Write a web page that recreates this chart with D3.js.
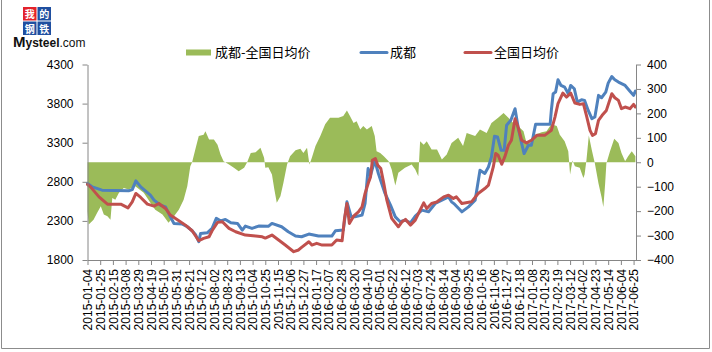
<!DOCTYPE html>
<html>
<head>
<meta charset="utf-8">
<script src="https://cdn.jsdelivr.net/npm/d3@7/dist/d3.min.js"></script>
<style>
  body { margin: 0; background: #fff; }
  svg { display: block; font-family: "Liberation Sans", Arial, sans-serif; }
</style>
</head>
<body>
<div id="chart"></div>
<script>
'use strict';

// x-axis tick labels, every 21 days
var tickDates = [
  "2015-01-04","2015-01-25","2015-02-15","2015-03-08","2015-03-29","2015-04-19","2015-05-10","2015-05-31",
  "2015-06-21","2015-07-12","2015-08-02","2015-08-23","2015-09-13","2015-10-04","2015-10-25","2015-11-15",
  "2015-12-06","2015-12-27","2016-01-17","2016-02-07","2016-02-28","2016-03-20","2016-04-10","2016-05-01",
  "2016-05-22","2016-06-12","2016-07-03","2016-07-24","2016-08-14","2016-09-04","2016-09-25","2016-10-16",
  "2016-11-06","2016-11-27","2016-12-18","2017-01-08","2017-01-29","2017-02-19","2017-03-12","2017-04-02",
  "2017-04-23","2017-05-14","2017-06-04","2017-06-25"
];

var leftTicks = [1800, 2300, 2800, 3300, 3800, 4300];
var rightTicks = [-400, -300, -200, -100, 0, 100, 200, 300, 400];

var seriesNames = ["成都-全国日均价", "成都", "全国日均价"];

// 成都
var chengdu = [
  ["2015-01-04",2780],["2015-01-12",2735],["2015-01-28",2693],["2015-03-13",2684],["2015-03-19",2700],
  ["2015-03-25",2812],["2015-04-02",2735],["2015-04-18",2629],["2015-04-24",2565],["2015-05-05",2500],
  ["2015-05-13",2480],["2015-05-21",2352],["2015-05-27",2268],["2015-06-10",2259],["2015-06-18",2225],
  ["2015-06-26",2174],["2015-07-02",2119],["2015-07-07",2034],["2015-07-10",2140],["2015-07-21",2148],
  ["2015-07-29",2204],["2015-08-05",2332],["2015-08-12",2301],["2015-08-20",2319],["2015-08-29",2276],
  ["2015-09-09",2268],["2015-09-17",2183],["2015-09-22",2234],["2015-10-03",2204],["2015-10-14",2234],
  ["2015-10-30",2230],["2015-11-05",2268],["2015-11-21",2225],["2015-12-02",2161],["2015-12-14",2106],
  ["2015-12-24",2097],["2016-01-05",2132],["2016-01-21",2106],["2016-02-12",2106],["2016-02-18",2174],
  ["2016-03-02",2183],["2016-03-08",2544],["2016-03-15",2352],["2016-03-21",2352],["2016-04-02",2374],
  ["2016-04-07",2523],["2016-04-12",2970],["2016-04-16",2884],["2016-04-23",3075],["2016-04-29",2906],
  ["2016-05-10",2651],["2016-05-19",2501],["2016-05-27",2352],["2016-06-04",2289],["2016-06-12",2310],
  ["2016-06-21",2276],["2016-06-29",2361],["2016-07-10",2438],["2016-07-21",2416],["2016-08-01",2523],
  ["2016-08-12",2565],["2016-08-23",2607],["2016-08-28",2544],["2016-09-02",2514],["2016-09-14",2416],
  ["2016-09-25",2480],["2016-10-06",2565],["2016-10-14",2948],["2016-10-22",2906],["2016-10-28",2990],
  ["2016-11-02",3118],["2016-11-07",3382],["2016-11-12",3373],["2016-11-18",3203],["2016-11-23",3203],
  ["2016-11-27",3522],["2016-12-04",3586],["2016-12-11",3735],["2016-12-16",3500],["2016-12-22",3288],
  ["2016-12-26",3161],["2017-01-02",3267],["2017-01-07",3267],["2017-01-14",3535],["2017-02-07",3535],
  ["2017-02-09",3713],["2017-02-12",3926],["2017-02-16",3947],["2017-02-20",4105],["2017-02-25",4032],
  ["2017-03-03",4011],["2017-03-09",3926],["2017-03-13",4032],["2017-03-19",3990],["2017-03-24",3819],
  ["2017-03-31",3850],["2017-04-05",3841],["2017-04-11",3713],["2017-04-17",3607],["2017-04-22",3628],
  ["2017-04-28",3905],["2017-05-03",3875],["2017-05-10",3947],["2017-05-14",4062],["2017-05-20",4147],
  ["2017-05-25",4105],["2017-05-31",4075],["2017-06-11",4032],["2017-06-19",3959],["2017-06-25",3905],
  ["2017-06-28",3959]
];

// 全国日均价
var national = [
  ["2015-01-04",2765],["2015-01-09",2735],["2015-01-23",2607],["2015-02-06",2514],["2015-02-28",2514],
  ["2015-03-12",2467],["2015-03-19",2544],["2015-03-25",2651],["2015-04-02",2600],["2015-04-13",2514],
  ["2015-04-24",2489],["2015-05-02",2523],["2015-05-13",2459],["2015-05-21",2374],["2015-06-01",2319],
  ["2015-06-15",2246],["2015-06-26",2174],["2015-07-07",2046],["2015-07-15",2077],["2015-07-24",2097],
  ["2015-07-29",2174],["2015-08-07",2281],["2015-08-15",2289],["2015-08-26",2204],["2015-09-06",2161],
  ["2015-09-22",2119],["2015-10-09",2106],["2015-10-20",2097],["2015-10-25",2080],["2015-11-05",2119],
  ["2015-11-16",2055],["2015-11-27",1991],["2015-12-11",1906],["2015-12-19",1928],["2015-12-24",1962],
  ["2016-01-05",2034],["2016-01-10",1991],["2016-01-18",2013],["2016-01-27",1991],["2016-02-12",1991],
  ["2016-02-20",2055],["2016-02-29",2046],["2016-03-04",2332],["2016-03-08",2523],["2016-03-12",2268],
  ["2016-03-19",2361],["2016-03-27",2416],["2016-04-02",2480],["2016-04-07",2651],["2016-04-13",2799],
  ["2016-04-16",2863],["2016-04-19",3075],["2016-04-24",3097],["2016-04-28",3012],["2016-05-03",2969],
  ["2016-05-08",2778],["2016-05-13",2565],["2016-05-21",2332],["2016-06-01",2225],["2016-06-07",2289],
  ["2016-06-13",2319],["2016-06-21",2246],["2016-06-29",2310],["2016-07-07",2438],["2016-07-13",2531],
  ["2016-07-18",2459],["2016-07-26",2523],["2016-08-04",2544],["2016-08-15",2607],["2016-08-23",2629],
  ["2016-08-31",2587],["2016-09-05",2607],["2016-09-14",2523],["2016-09-30",2544],["2016-10-11",2651],
  ["2016-10-22",2714],["2016-10-28",2757],["2016-11-05",2990],["2016-11-09",3161],["2016-11-13",3139],
  ["2016-11-19",3024],["2016-11-24",3118],["2016-11-30",3267],["2016-12-05",3331],["2016-12-11",3607],
  ["2016-12-16",3500],["2016-12-22",3331],["2016-12-30",3297],["2017-01-07",3331],["2017-01-16",3394],
  ["2017-01-29",3394],["2017-02-09",3458],["2017-02-15",3628],["2017-02-20",3799],["2017-02-28",3934],
  ["2017-03-06",3883],["2017-03-13",3934],["2017-03-20",3807],["2017-03-28",3790],["2017-04-03",3799],
  ["2017-04-08",3650],["2017-04-14",3458],["2017-04-18",3394],["2017-04-23",3416],["2017-04-28",3586],
  ["2017-05-04",3650],["2017-05-11",3713],["2017-05-20",3926],["2017-05-25",3875],["2017-05-31",3841],
  ["2017-06-05",3735],["2017-06-11",3756],["2017-06-19",3735],["2017-06-25",3790],["2017-06-28",3756]
];

// 成都-全国日均价 (right axis)
var spread = [
  ["2015-01-04",-200],["2015-01-06",-255],["2015-01-14",-235],["2015-01-20",-207],["2015-01-26",-180],
  ["2015-01-31",-214],["2015-02-06",-221],["2015-02-11",-235],["2015-02-14",-146],["2015-02-19",-153],
  ["2015-02-25",-125],["2015-03-05",-105],["2015-03-13",-112],["2015-03-24",-98],["2015-04-07",-125],
  ["2015-04-18",-166],["2015-04-26",-194],["2015-05-08",-214],["2015-05-18",-248],["2015-05-27",-221],
  ["2015-06-04",-194],["2015-06-12",-153],["2015-06-18",-98],["2015-06-23",-16],["2015-06-26",0],
  ["2015-07-02",59],["2015-07-07",107],["2015-07-15",113],["2015-07-18",127],["2015-07-24",93],
  ["2015-08-01",93],["2015-08-07",72],["2015-08-12",32],["2015-08-17",4],["2015-08-26",-9],
  ["2015-09-03",-23],["2015-09-11",-37],["2015-09-20",-23],["2015-09-25",0],["2015-10-01",38],
  ["2015-10-09",41],["2015-10-17",59],["2015-10-23",18],["2015-10-25",-23],["2015-10-30",-20],
  ["2015-11-05",-50],["2015-11-09",-112],["2015-11-13",-166],["2015-11-19",-139],["2015-11-24",-84],
  ["2015-11-30",-9],["2015-12-05",25],["2015-12-14",49],["2015-12-22",55],["2015-12-27",38],
  ["2016-01-02",59],["2016-01-06",-9],["2016-01-10",18],["2016-01-16",66],["2016-01-24",107],
  ["2016-02-01",155],["2016-02-09",182],["2016-02-23",182],["2016-03-02",189],["2016-03-08",212],
  ["2016-03-13",189],["2016-03-19",161],["2016-03-24",168],["2016-03-30",134],["2016-04-04",148],
  ["2016-04-10",134],["2016-04-18",148],["2016-04-23",107],["2016-04-26",45],["2016-05-02",38],
  ["2016-05-08",25],["2016-05-16",4],["2016-05-21",-30],["2016-05-27",-95],["2016-06-01",-43],
  ["2016-06-12",-23],["2016-06-23",-9],["2016-06-29",-30],["2016-07-04",-57],["2016-07-07",86],
  ["2016-07-13",72],["2016-07-18",86],["2016-07-26",52],["2016-08-04",52],["2016-08-12",11],
  ["2016-08-20",32],["2016-08-28",79],["2016-09-08",100],["2016-09-16",66],["2016-09-22",120],
  ["2016-10-06",107],["2016-10-14",134],["2016-10-25",120],["2016-11-02",161],["2016-11-13",182],
  ["2016-11-22",202],["2016-11-30",182],["2016-12-08",161],["2016-12-16",148],["2016-12-25",127],
  ["2016-12-30",79],["2017-01-05",79],["2017-01-13",113],["2017-01-24",123],["2017-02-01",127],
  ["2017-02-09",155],["2017-02-18",148],["2017-02-23",113],["2017-03-03",86],["2017-03-09",45],
  ["2017-03-12",-50],["2017-03-16",7],["2017-03-20",-16],["2017-03-28",-23],["2017-04-03",-64],
  ["2017-04-05",-50],["2017-04-08",7],["2017-04-12",109],["2017-04-17",49],["2017-04-22",-5],
  ["2017-04-28",-87],["2017-05-03",-142],["2017-05-06",-183],["2017-05-09",-87],["2017-05-11",-5],
  ["2017-05-17",45],["2017-05-24",96],["2017-05-31",79],["2017-06-05",38],["2017-06-11",4],
  ["2017-06-16",25],["2017-06-22",45],["2017-06-28",25]
];

var width = 712, height = 352;
var plot = {left: 87.5, right: 636, top: 64.5, bottom: 260};
var colors = {spread: "#9bbb59", chengdu: "#4f81bd", national: "#c0504d", axis: "#868686"};

var parse = d3.timeParse("%Y-%m-%d");
var fmt = d3.timeFormat("%Y-%m-%d");

var x = d3.scaleTime()
  .domain([parse("2015-01-04"), parse("2017-06-29")])
  .range([plot.left, plot.right]);
var yLeft = d3.scaleLinear().domain([1800, 4300]).range([plot.bottom, plot.top]);
var yRight = d3.scaleLinear().domain([-400, 400]).range([plot.bottom, plot.top]);

var svg = d3.select("#chart").append("svg")
  .attr("width", width)
  .attr("height", height);

svg.append("rect")
  .attr("width", width).attr("height", height)
  .attr("fill", "#fff");

// chart area border
svg.append("path")
  .attr("d", "M1.5,0V348.5H709.5V0")
  .attr("fill", "none")
  .attr("stroke", "#8c8c8c");

// spread area
var area = d3.area()
  .x(function(d) { return x(parse(d[0])); })
  .y0(yRight(0))
  .y1(function(d) { return yRight(d[1]); });

svg.append("path")
  .datum(spread)
  .attr("d", area)
  .attr("fill", colors.spread);

function drawLine(data, color) {
  var line = d3.line()
    .x(function(d) { return x(parse(d[0])); })
    .y(function(d) { return yLeft(d[1]); });
  svg.append("path")
    .datum(data)
    .attr("d", line)
    .attr("fill", "none")
    .attr("stroke", color)
    .attr("stroke-width", 3)
    .attr("stroke-linejoin", "round")
    .attr("stroke-linecap", "round");
}
drawLine(chengdu, colors.chengdu);
drawLine(national, colors.national);

// axes
function styleAxis(g) {
  g.selectAll("path, line").attr("stroke", colors.axis);
  g.selectAll("text").attr("fill", "#000").style("font-size", "12px");
}

svg.append("g")
  .attr("transform", "translate(" + plot.left + ",0)")
  .call(d3.axisLeft(yLeft).tickValues(leftTicks).tickFormat(d3.format("d"))
    .tickSize(5).tickSizeOuter(0).tickPadding(9))
  .call(styleAxis);

svg.append("g")
  .attr("transform", "translate(" + plot.right + ",0)")
  .call(d3.axisRight(yRight).tickValues(rightTicks).tickFormat(d3.format("d"))
    .tickSize(5).tickSizeOuter(0).tickPadding(6))
  .call(styleAxis);

var xAxis = svg.append("g")
  .attr("transform", "translate(0," + plot.bottom + ")")
  .call(d3.axisBottom(x)
    .tickValues(tickDates.map(parse))
    .tickFormat(fmt)
    .tickSize(5)
    .tickSizeOuter(0))
  .call(styleAxis);

xAxis.selectAll("text")
  .attr("transform", "rotate(-90)")
  .attr("text-anchor", "end")
  .attr("x", -9)
  .attr("y", 0)
  .attr("dy", "0.35em");

// legend
var legend = svg.append("g")
  .style("font-family", "'Noto Sans CJK SC', sans-serif")
  .style("font-size", "13px");

legend.append("rect")
  .attr("x", 186).attr("y", 49.5)
  .attr("width", 25).attr("height", 6)
  .attr("fill", colors.spread);
legend.append("text").attr("x", 215).attr("y", 56.5).text(seriesNames[0]);

legend.append("line")
  .attr("x1", 361).attr("x2", 387).attr("y1", 52.5).attr("y2", 52.5)
  .attr("stroke", colors.chengdu).attr("stroke-width", 3).attr("stroke-linecap", "round");
legend.append("text").attr("x", 390).attr("y", 56.5).text(seriesNames[1]);

legend.append("line")
  .attr("x1", 465).attr("x2", 491).attr("y1", 52.5).attr("y2", 52.5)
  .attr("stroke", colors.national).attr("stroke-width", 3).attr("stroke-linecap", "round");
legend.append("text").attr("x", 494).attr("y", 56.5).text(seriesNames[2]);

// Mysteel logo
var logo = svg.append("g");
var logoCells = [
  {t: "我", x: 23, y: 7, c: "#e3222b"},
  {t: "的", x: 37.5, y: 7, c: "#1f4fa0"},
  {t: "钢", x: 23, y: 21.5, c: "#1f4fa0"},
  {t: "铁", x: 37.5, y: 21.5, c: "#1f4fa0"}
];
logo.selectAll("rect").data(logoCells).enter().append("rect")
  .attr("x", function(d) { return d.x; })
  .attr("y", function(d) { return d.y; })
  .attr("width", 13.5).attr("height", 13.5)
  .attr("fill", function(d) { return d.c; });
logo.selectAll("text.cell").data(logoCells).enter().append("text")
  .attr("class", "cell")
  .attr("x", function(d) { return d.x + 6.75; })
  .attr("y", function(d) { return d.y + 11; })
  .attr("text-anchor", "middle")
  .attr("fill", "#fff")
  .style("font-family", "'Noto Sans CJK SC', sans-serif")
  .style("font-weight", "bold")
  .style("font-size", "10px")
  .text(function(d) { return d.t; });

var brand = logo.append("text")
  .attr("x", 13).attr("y", 46.5)
  .attr("fill", "#111")
  .style("font-family", "'Liberation Sans', Arial, sans-serif");
brand.append("tspan").style("font-size", "15px").style("font-weight", "bold").text("M");
brand.append("tspan").style("font-size", "12px").style("font-weight", "bold").text("ysteel");
brand.append("tspan").style("font-size", "12px").text(".com");
</script>
</body>
</html>
